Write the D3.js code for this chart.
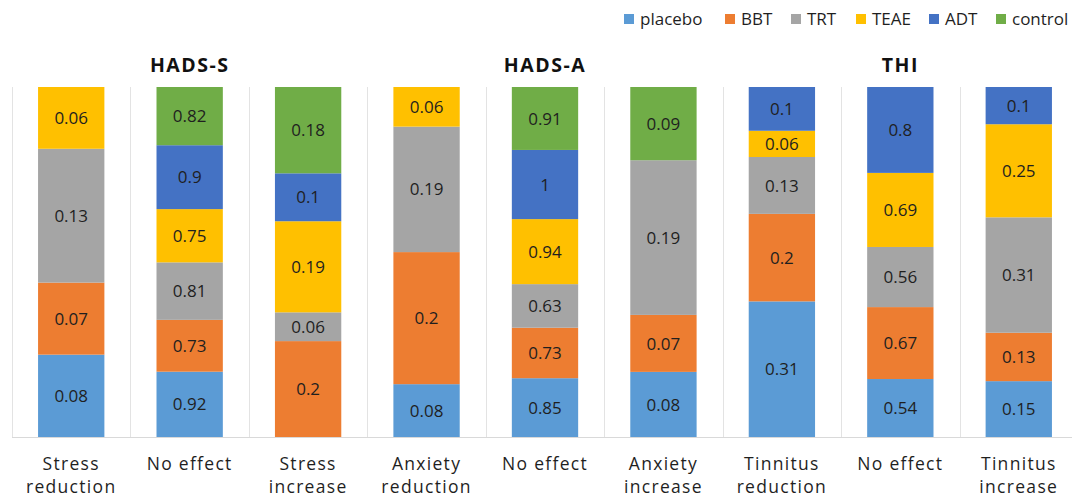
<!DOCTYPE html>
<html lang="en">
<head>
<meta charset="UTF-8">
<title>Chart</title>
<script src="https://cdn.jsdelivr.net/npm/d3@7"></script>
<style>
  body{margin:0;background:#fff;}
  svg{display:block;font-family:"Open Sans",sans-serif;}
  .grid{stroke:#e3e3e3;stroke-width:1;}
  .base{stroke:#d9d9d9;stroke-width:1;}
  .val{font-size:17px;fill:#1f1f1f;text-anchor:middle;}
  .cat{font-size:17.5px;fill:#1f1f1f;text-anchor:middle;letter-spacing:1.3px;}
  .grp{font-size:19.5px;font-weight:bold;fill:#111;text-anchor:middle;letter-spacing:1.5px;}
  .leg{font-size:17px;fill:#1f1f1f;}
</style>
</head>
<body>
<svg width="1072" height="497"></svg>
<script>
var categories = ["Stress reduction","No effect","Stress increase","Anxiety reduction","No effect","Anxiety increase","Tinnitus reduction","No effect","Tinnitus increase"];
var groups = [["HADS-S",1],["HADS-A",4],["THI",7]];
var series = ["placebo","BBT","TRT","TEAE","ADT","control"];
var colors = ["#5B9BD5","#ED7D31","#A5A5A5","#FFC000","#4472C4","#70AD47"];

var placebo = [0.08,0.92,0,   0.08,0.85,0.08,0.31,0.54,0.15];
var BBT     = [0.07,0.73,0.2, 0.2, 0.73,0.07,0.2, 0.67,0.13];
var TRT     = [0.13,0.81,0.06,0.19,0.63,0.19,0.13,0.56,0.31];
var TEAE    = [0.06,0.75,0.19,0.06,0.94,0,   0.06,0.69,0.25];
var ADT     = [0,   0.9, 0.1, 0,   1,   0,   0.1, 0.8, 0.1];
var control = [0,   0.82,0.18,0,   0.91,0.09,0,   0,   0];

var svg = d3.select("svg");
var cols = [placebo,BBT,TRT,TEAE,ADT,control];
var rows = categories.map(function(c,i){
  var r = {idx:i,cat:c};
  series.forEach(function(s,j){ r[s] = cols[j][i]; });
  return r;
});

var x = d3.scaleBand().domain(d3.range(categories.length)).range([12,1078]).paddingInner(0.44).paddingOuter(0.22);
var y = d3.scaleLinear().domain([0,1]).range([437,87]);
var color = d3.scaleOrdinal().domain(series).range(colors);

var stack = d3.stack().keys(series).offset(d3.stackOffsetExpand);
var layers = stack(rows);

var step = x.step();
var bounds = d3.range(categories.length+1).map(function(i){ return 12 + i*step; });
svg.append("g").selectAll("line").data(bounds).join("line")
  .attr("class","grid")
  .attr("x1",function(d){return Math.round(d)+0.5;}).attr("x2",function(d){return Math.round(d)+0.5;})
  .attr("y1",87).attr("y2",437);
svg.append("line").attr("class","base").attr("x1",12).attr("x2",1072).attr("y1",437.5).attr("y2",437.5);

var lg = svg.append("g").selectAll("g").data(layers).join("g")
  .attr("fill",function(d){return color(d.key);});
lg.selectAll("rect").data(function(d){return d.filter(function(p){return p[1]-p[0]>0;});}).join("rect")
  .attr("x",function(d){return x(d.data.idx);})
  .attr("width",x.bandwidth())
  .attr("y",function(d){return y(d[1]);})
  .attr("height",function(d){return y(d[0])-y(d[1]);});

var labels = [];
layers.forEach(function(l){
  l.forEach(function(p){
    var v = p.data[l.key];
    if(v>0) labels.push({x:x(p.data.idx)+x.bandwidth()/2, y:(y(p[0])+y(p[1]))/2, v:v});
  });
});
svg.append("g").selectAll("text").data(labels).join("text")
  .attr("class","val")
  .attr("x",function(d){return d.x;})
  .attr("y",function(d){return d.y;})
  .attr("dy","0.36em")
  .text(function(d){return d.v;});

var ct = svg.append("g").selectAll("text").data(categories).join("text")
  .attr("class","cat")
  .attr("x",function(d,i){return x(i)+x.bandwidth()/2;})
  .attr("y",470);
ct.each(function(d){
  var t = d3.select(this);
  var words = d==="No effect" ? [d] : d.split(" ");
  words.forEach(function(w,k){
    t.append("tspan").attr("x",t.attr("x")).attr("dy",k===0?0:23).text(w);
  });
});

svg.append("g").selectAll("text").data(groups).join("text")
  .attr("class","grp")
  .attr("x",function(d){return x(d[1])+x.bandwidth()/2;})
  .attr("y",72)
  .text(function(d){return d[0];});

var legX = [624,725,791,856,929,996];
var leg = svg.append("g").selectAll("g").data(series).join("g")
  .attr("transform",function(d,i){return "translate("+legX[i]+",14)";});
leg.append("rect").attr("width",10).attr("height",10).attr("fill",function(d){return color(d);});
leg.append("text").attr("class","leg").attr("x",16).attr("y",11).text(function(d){return d;});
</script>
</body>
</html>
